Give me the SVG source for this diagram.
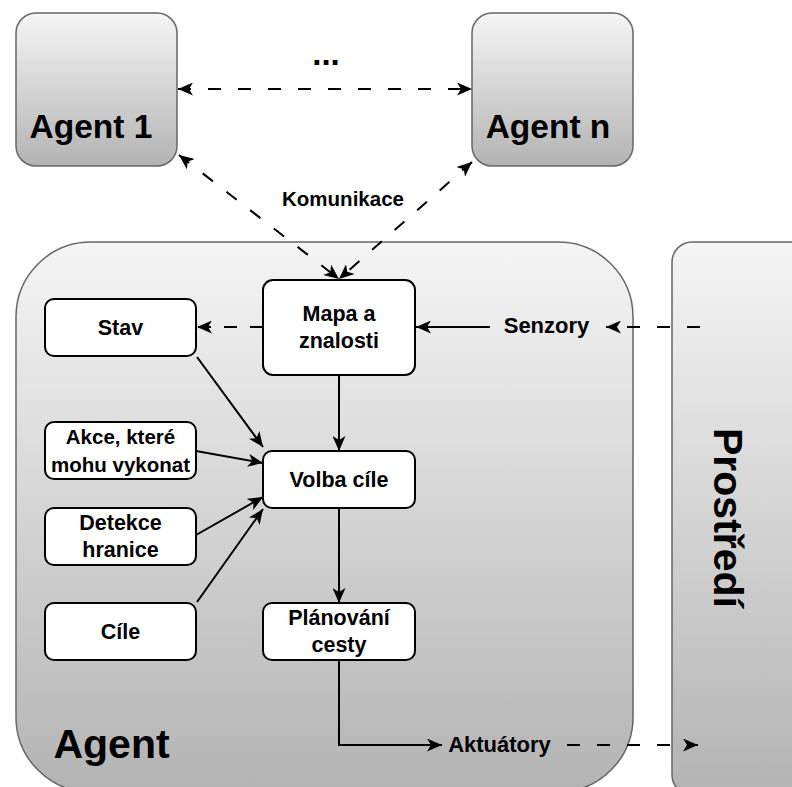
<svg xmlns="http://www.w3.org/2000/svg" width="792" height="787" viewBox="0 0 792 787">
<style>
.cont{stroke:#666666;stroke-width:1.5}
.box{fill:#ffffff;stroke:#000000;stroke-width:2}
.t{font-family:"Liberation Sans",Arial,sans-serif;font-weight:bold;fill:#000000;text-anchor:middle}
.c{fill:none;stroke:#000000;stroke-width:2}
.d{stroke-dasharray:13 17}
</style>
<defs>
<linearGradient id="gA" x1="0" y1="0" x2="0" y2="1">
<stop offset="0" stop-color="#f5f5f5"/>
<stop offset="1" stop-color="#b3b3b3"/>
</linearGradient>
<marker id="ar" viewBox="0 0 15 13" refX="15" refY="6.5" markerWidth="15" markerHeight="13" markerUnits="userSpaceOnUse" orient="auto-start-reverse">
<path d="M0,0 L15,6.5 L0,13 L4,6.5 Z" fill="#000000"/>
</marker>
</defs>
<rect width="792" height="787" fill="#ffffff"/>

<g id="agent">
<rect class="cont" x="16" y="242" width="617" height="550" rx="75" ry="75" fill="url(#gA)"/>
<text class="t" x="111.5" y="758" font-size="41">Agent</text>
</g>
<g id="prostredi">
<rect class="cont" x="672" y="242" width="160" height="553" rx="20" ry="20" fill="url(#gA)"/>
<text class="t" font-size="41" transform="translate(714,518) rotate(90)" x="0" y="0">Prostředí</text>
</g>
<g id="agent1">
<rect class="cont" x="16" y="13" width="161" height="153" rx="20" ry="20" fill="url(#gA)"/>
<text class="t" x="91" y="138" font-size="33.5">Agent 1</text>
</g>
<g id="agentn">
<rect class="cont" x="472" y="13" width="161" height="153" rx="20" ry="20" fill="url(#gA)"/>
<text class="t" x="548" y="138" font-size="33.5">Agent n</text>
</g>
<g id="dots">
<text class="t" x="326" y="65" font-size="33">...</text>
</g>

<g id="connectors">
<line class="c d" x1="178" y1="89" x2="472" y2="89" marker-start="url(#ar)" marker-end="url(#ar)"/>
<line class="c d" x1="179" y1="155" x2="339" y2="279" marker-start="url(#ar)" marker-end="url(#ar)"/>
<line class="c d" x1="472" y1="162" x2="339" y2="279" marker-start="url(#ar)" marker-end="url(#ar)"/>
<line class="c" x1="263" y1="327" x2="197" y2="327" stroke-dasharray="13 13" marker-end="url(#ar)"/>
<line class="c" x1="490" y1="327" x2="416" y2="327" marker-end="url(#ar)"/>
<line class="c d" x1="700" y1="327" x2="606" y2="327" marker-end="url(#ar)"/>
<line class="c" x1="339" y1="375" x2="339" y2="451" marker-end="url(#ar)"/>
<line class="c" x1="197" y1="357" x2="263" y2="447" marker-end="url(#ar)"/>
<line class="c" x1="196" y1="451" x2="263" y2="463" marker-end="url(#ar)"/>
<line class="c" x1="196" y1="535" x2="263" y2="497" marker-end="url(#ar)"/>
<line class="c" x1="197" y1="602" x2="263" y2="509" marker-end="url(#ar)"/>
<line class="c" x1="339" y1="508" x2="339" y2="603" marker-end="url(#ar)"/>
<polyline class="c" points="339,660 339,745 442,745" marker-end="url(#ar)"/>
<line class="c d" x1="567" y1="745" x2="698" y2="745" marker-end="url(#ar)"/>
<text class="t" x="343" y="206" font-size="20.5">Komunikace</text>
<text class="t" x="546.5" y="333" font-size="22">Senzory</text>
<text class="t" x="499.5" y="752" font-size="22">Aktuátory</text>
</g>

<g id="mapa">
<rect class="box" x="263" y="280" width="152" height="95" rx="10" ry="10"/>
<text class="t" x="339" y="321" font-size="21.5">Mapa a</text>
<text class="t" x="339" y="348" font-size="21.5">znalosti</text>
</g>
<g id="stav">
<rect class="box" x="45" y="299" width="151" height="57" rx="9" ry="9"/>
<text class="t" x="120.5" y="334.5" font-size="21.5">Stav</text>
</g>
<g id="akce">
<rect class="box" x="45" y="422" width="151" height="57" rx="9" ry="9"/>
<text class="t" x="120.5" y="444" font-size="20.5">Akce, které</text>
<text class="t" x="120.5" y="471.5" font-size="20.5">mohu vykonat</text>
</g>
<g id="volba">
<rect class="box" x="263" y="451" width="152" height="57" rx="9" ry="9"/>
<text class="t" x="339" y="487" font-size="21.5">Volba cíle</text>
</g>
<g id="detekce">
<rect class="box" x="45" y="508" width="151" height="57" rx="9" ry="9"/>
<text class="t" x="120.5" y="529.5" font-size="21.5">Detekce</text>
<text class="t" x="120.5" y="557" font-size="21.5">hranice</text>
</g>
<g id="cile">
<rect class="box" x="45" y="603" width="151" height="57" rx="9" ry="9"/>
<text class="t" x="120.5" y="638.5" font-size="21.5">Cíle</text>
</g>
<g id="planovani">
<rect class="box" x="263" y="603" width="152" height="57" rx="9" ry="9"/>
<text class="t" x="339" y="625" font-size="21.5">Plánování</text>
<text class="t" x="339" y="652" font-size="21.5">cesty</text>
</g>
</svg>
